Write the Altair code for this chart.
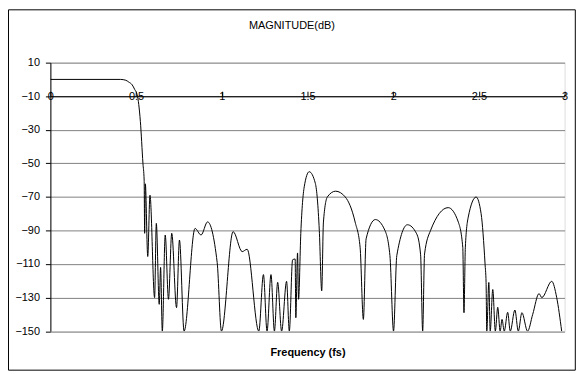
import altair as alt
import pandas as pd

# Frequency (fs) and magnitude (dB)
freq = [0, 0.41, 0.44, 0.4575, 0.477, 0.492, 0.506, 0.525, 0.540, 0.547,
        0.550, 0.554, 0.568, 0.581, 0.608, 0.618, 0.635, 0.643, 0.653, 0.670,
        0.689, 0.708, 0.736, 0.753, 0.780, 0.844, 0.879, 0.917, 0.973, 0.998,
        1.066, 1.119, 1.148, 1.216, 1.243, 1.264, 1.287, 1.307, 1.326, 1.349,
        1.378, 1.394, 1.413, 1.428, 1.432, 1.442, 1.448, 1.461, 1.481, 1.510,
        1.546, 1.569, 1.583, 1.593, 1.616, 1.664, 1.720, 1.778, 1.807, 1.826,
        1.842, 1.896, 1.952, 1.981, 2.002, 2.021, 2.083, 2.137, 2.160, 2.172,
        2.183, 2.218, 2.321, 2.380, 2.406, 2.413, 2.421, 2.438, 2.484, 2.513,
        2.536, 2.542, 2.546, 2.558, 2.566, 2.581, 2.596, 2.610, 2.624, 2.635,
        2.648, 2.668, 2.683, 2.710, 2.730, 2.751, 2.784, 2.814, 2.851, 2.867,
        2.925, 2.954, 2.983]
mag = [0, 0, -0.5, -1.6, -3.2, -6, -9, -25, -50, -60,
       -91.7, -62.2, -105.5, -69, -130, -85.8, -134, -112, -150, -92.7,
       -131, -91.7, -136, -95.7, -150, -88.8, -92.7, -84.9, -109, -150,
       -90.7, -102.6, -101.2, -150, -116.3, -150, -116.3, -150, -120.9, -150,
       -120.3, -150, -107.5, -107, -142, -103.4, -131, -91.7, -64, -55,
       -62, -90, -126, -85, -70, -66.6, -70, -85, -100, -143,
       -95, -83.5, -90, -105, -150, -105, -86.6, -92, -104.5, -150,
       -104, -90, -76.4, -85, -100, -139, -100, -82, -70.1, -80,
       -110, -121, -150, -121, -150, -125.2, -150, -135.8, -150, -143,
       -150, -138.8, -150, -137.4, -150, -139, -150, -140, -127.6, -130,
       -120.3, -130, -150]

y_ticks = [10, -10, -30, -50, -70, -90, -110, -130, -150]
x_ticks = [0, 0.5, 1, 1.5, 2, 2.5, 3]

W, H = 518, 270.5
FONT = "Liberation Sans"
AXIS_POS = H * 20 / 160  # y = -10 line

df = pd.DataFrame({"freq": freq, "mag": mag})

line = alt.Chart(df).mark_line(
    color="black", strokeWidth=1, interpolate="monotone", clip=True
).encode(
    x=alt.X("freq:Q",
            scale=alt.Scale(domain=[0, 3], nice=False, zero=False),
            axis=alt.Axis(orient="top", offset=-AXIS_POS, values=x_ticks,
                          format="~g", grid=False, domainColor="black",
                          tickColor="black", tickSize=5, labelPadding=-5,
                          labelBaseline="middle", labelFont=FONT,
                          labelFontSize=11, labelColor="black",
                          labelFlush=False, labelOverlap=False,
                          title="Frequency (fs)", titleFont=FONT,
                          titleFontSize=11, titleFontWeight="bold",
                          titleColor="black", titleBaseline="middle",
                          titleY=258.5)),
    y=alt.Y("mag:Q",
            scale=alt.Scale(domain=[-150, 10], nice=False, zero=False),
            axis=alt.Axis(values=y_ticks, grid=True, gridColor="#808080",
                          gridWidth=1, domainColor="black", tickColor="black",
                          tickSize=5, labelPadding=6, labelFont=FONT,
                          labelFontSize=11, labelColor="black", title=None)),
)

frame = alt.Chart(pd.DataFrame({"a": [0]})).mark_rect(
    fillOpacity=0, stroke="black", strokeWidth=1
).encode(
    x=alt.value(-42.2), x2=alt.value(528.8),
    y=alt.value(-53.2), y2=alt.value(309.8)
)

chart = alt.layer(frame, line).properties(
    width=W, height=H,
    title=alt.Title("MAGNITUDE(dB)", font=FONT, fontSize=11,
                    fontWeight="normal", anchor="middle", frame="bounds",
                    color="black", dy=26),
    autosize=alt.AutoSizeParams(type="none"),
    padding={"left": 42.7, "top": 53.7, "right": 11.5, "bottom": 40},
).configure_view(stroke="#a0a0a0", strokeWidth=1).configure(background="white")

chart.save("out.html", embed_options={"renderer": "svg", "actions": False})
